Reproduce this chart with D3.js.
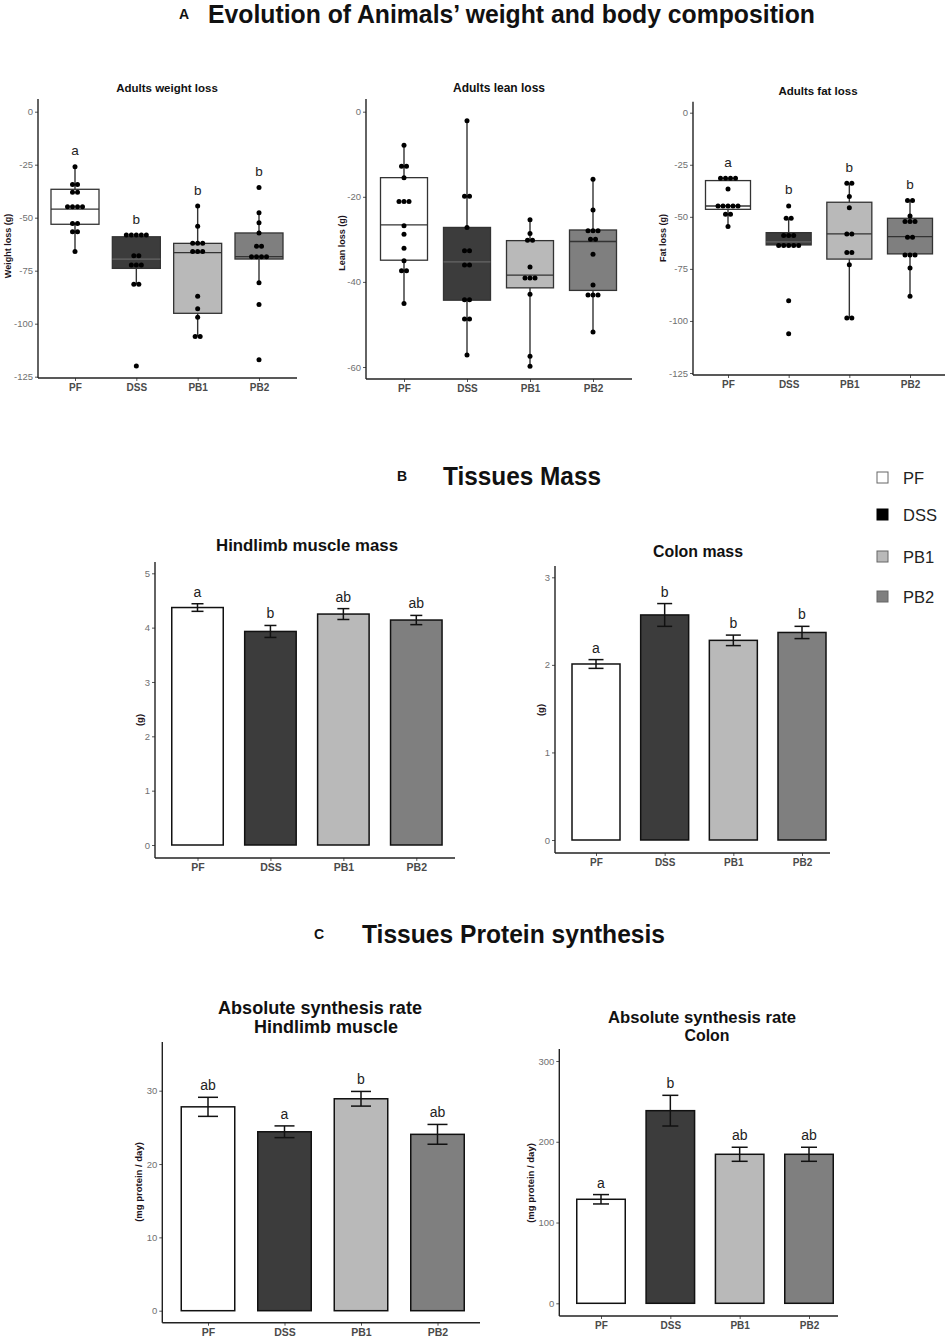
<!DOCTYPE html>
<html>
<head>
<meta charset="utf-8">
<script src="https://cdn.jsdelivr.net/npm/d3@7"></script>
<style>
  html, body { margin: 0; padding: 0; background: #fff; }
  svg { display: block; font-family: "Liberation Sans", Arial, sans-serif; }
</style>
</head>
<body>
<svg id="chart" width="949" height="1339"></svg>
<script>
// ---------------- DATA ----------------
const groups = ["PF", "DSS", "PB1", "PB2"];

// Boxplot stats: [lower whisker, Q1, median, Q3, upper whisker]
const weightBox = [[-66, -53.1, -46.0, -36.6, -26], [-81.4, -73.9, -69.5, -59, -58.2], [-106, -95.1, -66.5, -62.1, -44.5], [-80.7, -69.5, -68.4, -57.2, -47.7]];
const weightPoints = [
  [-26, -34.3, -34.3, -38, -38, -44.8, -44.8, -44.8, -44.8, -52.7, -52.7, -56.6, -56.6, -66],
  [-58.2, -58.2, -58.2, -58.2, -58.2, -68, -68, -72.3, -72.3, -72.3, -81.4, -81.4, -120],
  [-44.5, -54, -62, -62, -62, -66, -66, -66, -87, -93, -97, -106, -106],
  [-35.8, -47.7, -52.4, -57.2, -63.5, -63.5, -68.4, -68.4, -68.4, -68.4, -80.7, -91, -117]
];
const weightLetters = ["a", "b", "b", "b"];
const weightTicks = [0, -25, -50, -75, -100, -125];

const leanBox = [[-45.1, -34.9, -26.6, -15.5, -7.9], [-57.2, -44.3, -35.3, -27.2, -2.1], [-59.8, -41.4, -38.4, -30.3, -25.4], [-51.8, -42, -30.5, -27.8, -15.9]];
const leanPoints = [
  [-7.9, -12.8, -12.8, -15.5, -21.1, -21.1, -21.1, -26.8, -28.8, -32.1, -35, -37.4, -37.4, -45.1],
  [-2.1, -19.9, -19.9, -27.2, -32.7, -32.7, -36, -36, -44.2, -44.2, -48.7, -48.7, -57.2],
  [-25.4, -28.6, -30.2, -30.2, -36.5, -39.1, -39.1, -39.1, -42.9, -57.5, -59.8],
  [-15.9, -23.1, -28, -28, -28, -30, -30, -33.5, -40.7, -43.1, -43.1, -43.1, -51.8]
];
const leanLetters = ["", "", "", ""];
const leanTicks = [0, -20, -40, -60];

const fatBox = [[-54.7, -46.4, -44.8, -32.6, -31.5], [-63.5, -63.5, -62, -57.6, -51], [-98.6, -70.3, -58.2, -43, -33.9], [-88.2, -67.8, -59.5, -50.7, -42.2]];
const fatPoints = [
  [-31.5, -31.5, -31.5, -31.5, -36.6, -44.8, -44.8, -44.8, -44.8, -44.8, -48.8, -48.8, -54.7],
  [-44.8, -50.7, -50.7, -59, -59, -59, -63.8, -63.8, -63.8, -63.8, -63.8, -90.3, -106.1],
  [-33.9, -33.9, -40.3, -45.6, -58.2, -58.2, -67.1, -67.1, -73, -98.6, -98.6],
  [-42.2, -42.2, -49.6, -52.3, -52.3, -52.3, -59.8, -59.8, -68.3, -68.3, -68.3, -74.6, -88.2]
];
const fatLetters = ["a", "b", "b", "b"];
const fatTicks = [0, -25, -50, -75, -100, -125];

// Bar charts: mean and standard error
const muscleMass = [4.37, 3.93, 4.25, 4.14];
const muscleMassSE = [0.07, 0.11, 0.10, 0.085];
const muscleMassLetters = ["a", "b", "ab", "ab"];
const muscleMassTicks = [0, 1, 2, 3, 4, 5];

const colonMass = [2.01, 2.57, 2.28, 2.37];
const colonMassSE = [0.05, 0.13, 0.06, 0.07];
const colonMassLetters = ["a", "b", "b", "b"];
const colonMassTicks = [0, 1, 2, 3];

const muscleASR = [27.8, 24.4, 28.9, 24.05];
const muscleASRSE = [1.3, 0.8, 1.0, 1.35];
const muscleASRLetters = ["ab", "a", "b", "ab"];
const muscleASRTicks = [0, 10, 20, 30];

const colonASR = [128.8, 238.5, 184.5, 184.5];
const colonASRSE = [5.8, 19, 8.7, 8.7];
const colonASRLetters = ["a", "b", "ab", "ab"];
const colonASRTicks = [0, 100, 200, 300];

// ---------------- STYLE ----------------
const fills = ["#ffffff", "#3c3c3c", "#b9b9b9", "#7f7f7f"];
const tickColor = "#707070";
const svg = d3.select("#chart");

function sectionTitle(letter, lx, title, tx, y, len) {
  svg.append("text").attr("x", lx).attr("y", y).attr("dominant-baseline", "central")
    .attr("font-size", 14).attr("font-weight", "bold").attr("fill", "#111").text(letter);
  svg.append("text").attr("x", tx).attr("y", y).attr("dominant-baseline", "central")
    .attr("font-size", 25).attr("font-weight", "bold").attr("fill", "#111")
    .attr("textLength", len).attr("lengthAdjust", "spacingAndGlyphs").text(title);
}

function axes(g, cfg, y, x, tickVals, xFont, yFont) {
  const ya = g.append("g").attr("transform", `translate(${cfg.x0},0)`)
    .call(d3.axisLeft(y).tickValues(tickVals).tickSize(3).tickPadding(2).tickFormat(d => String(d)));
  ya.select(".domain").remove();
  ya.selectAll("line").attr("stroke", "#555");
  ya.selectAll("text").attr("fill", tickColor).attr("font-size", yFont).attr("font-family", "Liberation Sans, Arial");
  g.append("line").attr("x1", cfg.x0).attr("x2", cfg.x0).attr("y1", cfg.yTop).attr("y2", cfg.yBot)
    .attr("stroke", "#222").attr("stroke-width", 1.4);
  const xa = g.append("g").attr("transform", `translate(0,${cfg.yBot})`)
    .call(d3.axisBottom(x).tickSize(3).tickPadding(3));
  xa.select(".domain").remove();
  xa.selectAll("line").attr("stroke", "#555");
  xa.selectAll("text").attr("fill", "#4a4a4a").attr("font-size", xFont).attr("font-weight", "bold")
    .attr("font-family", "Liberation Sans, Arial");
  g.append("line").attr("x1", cfg.x0).attr("x2", cfg.xEnd).attr("y1", cfg.yBot).attr("y2", cfg.yBot)
    .attr("stroke", "#222").attr("stroke-width", 1.4);
}

function yLabel(g, text, x, y, size) {
  g.append("text").attr("transform", `translate(${x},${y}) rotate(-90)`)
    .attr("text-anchor", "middle").attr("dominant-baseline", "central")
    .attr("font-size", size).attr("font-weight", "bold").attr("fill", "#1d1420").text(text);
}

function boxPanel(cfg, boxes, points, letters, ticks) {
  const g = svg.append("g");
  const y = d3.scaleLinear().domain(cfg.yDom).range(cfg.yRange);
  const x = d3.scalePoint().domain(groups).range(cfg.centers);
  axes(g, cfg, y, x, ticks, 10, 9.5);
  groups.forEach((grp, i) => {
    const cx = x(grp);
    const [lo, q1, med, q3, hi] = boxes[i];
    g.append("line").attr("x1", cx).attr("x2", cx).attr("y1", y(lo)).attr("y2", y(hi))
      .attr("stroke", "#333").attr("stroke-width", 1.4);
    g.append("rect").attr("x", cx - cfg.boxW / 2).attr("width", cfg.boxW)
      .attr("y", y(q3)).attr("height", y(q1) - y(q3))
      .attr("fill", fills[i]).attr("stroke", "#333").attr("stroke-width", 1.3);
    g.append("line").attr("x1", cx - cfg.boxW / 2).attr("x2", cx + cfg.boxW / 2)
      .attr("y1", y(med)).attr("y2", y(med))
      .attr("stroke", i === 1 ? "#666" : "#333").attr("stroke-width", 1.3);
    const counts = d3.rollup(points[i], v => v.length, d => d);
    const seen = new Map();
    points[i].forEach(v => {
      const n = counts.get(v);
      const k = seen.get(v) || 0;
      seen.set(v, k + 1);
      const off = (k - (n - 1) / 2) * 5;
      g.append("circle").attr("cx", cx + off).attr("cy", y(v)).attr("r", 2.5).attr("fill", "#000");
    });
    if (letters[i]) {
      g.append("text").attr("x", cx).attr("y", y(d3.max(points[i])) - 16)
        .attr("text-anchor", "middle").attr("dominant-baseline", "central")
        .attr("font-size", 13.5).attr("fill", "#222").text(letters[i]);
    }
  });
  g.append("text").attr("x", cfg.titleX).attr("y", cfg.titleY).attr("text-anchor", "middle")
    .attr("dominant-baseline", "central").attr("font-size", cfg.titleSize).attr("font-weight", "bold")
    .attr("fill", "#111").text(cfg.title);
  yLabel(g, cfg.ylab, cfg.ylabX, cfg.ylabY, 9);
}

function barPanel(cfg, means, ses, letters, ticks) {
  const g = svg.append("g");
  const y = d3.scaleLinear().domain(cfg.yDom).range(cfg.yRange);
  const x = d3.scalePoint().domain(groups).range(cfg.centers);
  axes(g, cfg, y, x, ticks, cfg.xFont, 9.5);
  groups.forEach((grp, i) => {
    const cx = x(grp);
    g.append("rect").attr("x", cx - cfg.barW / 2).attr("width", cfg.barW)
      .attr("y", y(means[i])).attr("height", y(0) - y(means[i]))
      .attr("fill", fills[i]).attr("stroke", "#111").attr("stroke-width", 1.5);
    const top = y(means[i] + ses[i]), bot = y(means[i] - ses[i]);
    g.append("line").attr("x1", cx).attr("x2", cx).attr("y1", top).attr("y2", bot)
      .attr("stroke", "#111").attr("stroke-width", 1.5);
    [top, bot].forEach(yy => g.append("line").attr("x1", cx - cfg.cap / 2).attr("x2", cx + cfg.cap / 2)
      .attr("y1", yy).attr("y2", yy).attr("stroke", "#111").attr("stroke-width", 1.5));
    g.append("text").attr("x", cx).attr("y", top - 12).attr("text-anchor", "middle")
      .attr("dominant-baseline", "central").attr("font-size", 14).attr("fill", "#222").text(letters[i]);
  });
  cfg.title.forEach((t, k) => {
    g.append("text").attr("x", cfg.titleX[k]).attr("y", cfg.titleY[k]).attr("text-anchor", "middle")
      .attr("dominant-baseline", "central").attr("font-size", cfg.titleSize).attr("font-weight", "bold")
      .attr("textLength", cfg.titleLen[k]).attr("lengthAdjust", "spacingAndGlyphs")
      .attr("fill", "#111").text(t);
  });
  yLabel(g, cfg.ylab, cfg.ylabX, cfg.ylabY, 9.5);
}

// ---------------- SECTION A ----------------
sectionTitle("A", 179, "Evolution of Animals\u2019 weight and body composition", 208, 14, 607);

boxPanel({ x0: 38, xEnd: 297, yTop: 99, yBot: 378, centers: [75, 259], yDom: [0, -125], yRange: [111.7, 376.7],
  boxW: 48, title: "Adults weight loss", titleSize: 11.5, titleX: 167, titleY: 88, ylab: "Weight loss (g)", ylabX: 8, ylabY: 246 },
  weightBox, weightPoints, weightLetters, weightTicks);

boxPanel({ x0: 366, xEnd: 632, yTop: 99, yBot: 379, centers: [404, 593], yDom: [0, -60], yRange: [111.7, 367],
  boxW: 47, title: "Adults lean loss", titleSize: 12, titleX: 499, titleY: 88, ylab: "Lean loss (g)", ylabX: 342, ylabY: 243 },
  leanBox, leanPoints, leanLetters, leanTicks);

boxPanel({ x0: 693, xEnd: 945, yTop: 101.7, yBot: 375, centers: [728, 910], yDom: [0, -125], yRange: [112.7, 373],
  boxW: 45, title: "Adults fat loss", titleSize: 11.5, titleX: 818, titleY: 91, ylab: "Fat loss (g)", ylabX: 663, ylabY: 238 },
  fatBox, fatPoints, fatLetters, fatTicks);

// ---------------- SECTION B ----------------
sectionTitle("B", 397, "Tissues Mass", 443, 476, 158);

barPanel({ x0: 155, xEnd: 455, yTop: 562, yBot: 858, centers: [197.5, 416.3], yDom: [0, 5], yRange: [845, 573.3],
  barW: 51.5, cap: 12, xFont: 10.5, title: ["Hindlimb muscle mass"], titleSize: 16.5, titleX: [307], titleY: [545], titleLen: [182],
  ylab: "(g)", ylabX: 139, ylabY: 720 }, muscleMass, muscleMassSE, muscleMassLetters, muscleMassTicks);

barPanel({ x0: 555, xEnd: 830, yTop: 566, yBot: 853, centers: [596, 802], yDom: [0, 3], yRange: [840, 577.3],
  barW: 48, cap: 15, xFont: 10, title: ["Colon mass"], titleSize: 16, titleX: [698], titleY: [551], titleLen: [90],
  ylab: "(g)", ylabX: 540, ylabY: 710 }, colonMass, colonMassSE, colonMassLetters, colonMassTicks);

const legend = svg.append("g");
groups.forEach((grp, i) => {
  const yy = [478, 515, 557, 597][i];
  legend.append("rect").attr("x", 877).attr("y", yy - 6).attr("width", 11).attr("height", 11)
    .attr("fill", i === 1 ? "#000" : fills[i]).attr("stroke", i === 1 ? "#000" : "#666").attr("stroke-width", 1);
  legend.append("text").attr("x", 903).attr("y", yy).attr("dominant-baseline", "central")
    .attr("font-size", 16.5).attr("fill", "#222").text(grp);
});

// ---------------- SECTION C ----------------
sectionTitle("C", 314, "Tissues Protein synthesis", 362, 934, 303);

barPanel({ x0: 162.3, xEnd: 480, yTop: 1042, yBot: 1322.7, centers: [208, 437.5], yDom: [0, 30], yRange: [1310.7, 1090.7],
  barW: 53.5, cap: 20, xFont: 10.5, title: ["Absolute synthesis rate", "Hindlimb muscle"], titleSize: 17.5, titleX: [320, 326], titleY: [1008, 1027],
  titleLen: [204, 144], ylab: "(mg protein / day)", ylabX: 138, ylabY: 1182 }, muscleASR, muscleASRSE, muscleASRLetters, muscleASRTicks);

barPanel({ x0: 559.3, xEnd: 838, yTop: 1049, yBot: 1316, centers: [601, 809], yDom: [0, 300], yRange: [1303.3, 1061],
  barW: 48.5, cap: 16, xFont: 10, title: ["Absolute synthesis rate", "Colon"], titleSize: 16.5, titleX: [702, 707], titleY: [1017, 1035],
  titleLen: [188, 45], ylab: "(mg protein / day)", ylabX: 530, ylabY: 1183 }, colonASR, colonASRSE, colonASRLetters, colonASRTicks);
</script>
</body>
</html>
